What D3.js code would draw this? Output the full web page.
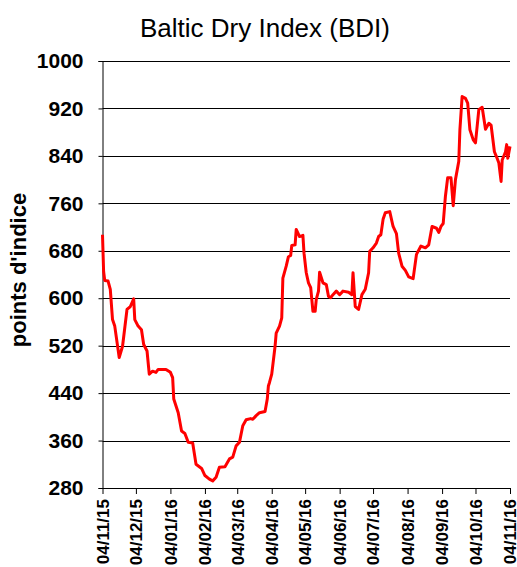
<!DOCTYPE html>
<html>
<head>
<meta charset="utf-8">
<script src="https://cdn.jsdelivr.net/npm/d3@7"></script>
<style>
  html, body { margin: 0; padding: 0; background: #fff; }
  svg { display: block; font-family: Arial, "Liberation Sans", sans-serif; }
</style>
</head>
<body>
<svg id="chart" width="517" height="567"></svg>
<script>
// ---- Data ----
const title = "Baltic Dry Index (BDI)";
const yTitle = "points d'indice";
const dates = [
  "2015-11-04","2015-11-05","2015-11-06","2015-11-09","2015-11-11","2015-11-13","2015-11-15","2015-11-19",
  "2015-11-22","2015-11-26","2015-11-29","2015-12-02","2015-12-03","2015-12-06","2015-12-09","2015-12-11",
  "2015-12-14","2015-12-16","2015-12-19","2015-12-22","2015-12-24","2015-12-31","2016-01-04","2016-01-06",
  "2016-01-07","2016-01-11","2016-01-14","2016-01-17","2016-01-20","2016-01-24","2016-01-27","2016-02-01",
  "2016-02-04","2016-02-08","2016-02-11","2016-02-14","2016-02-17","2016-02-22","2016-02-26","2016-02-29",
  "2016-03-03","2016-03-06","2016-03-09","2016-03-12","2016-03-16","2016-03-18","2016-03-21","2016-03-24",
  "2016-03-29","2016-03-31","2016-04-01","2016-04-02","2016-04-04","2016-04-07","2016-04-08","2016-04-11",
  "2016-04-13","2016-04-14","2016-04-17","2016-04-19","2016-04-21","2016-04-22","2016-04-25","2016-04-26",
  "2016-04-29","2016-05-02","2016-05-03","2016-05-05","2016-05-07","2016-05-09","2016-05-11","2016-05-13",
  "2016-05-14","2016-05-16","2016-05-17","2016-05-20","2016-05-23","2016-05-25","2016-05-27","2016-05-29",
  "2016-06-01","2016-06-04","2016-06-07","2016-06-12","2016-06-15","2016-06-16","2016-06-18","2016-06-21",
  "2016-06-24","2016-06-27","2016-06-30","2016-07-01","2016-07-04","2016-07-07","2016-07-09","2016-07-11",
  "2016-07-13","2016-07-15","2016-07-19","2016-07-22","2016-07-25","2016-07-27","2016-07-30","2016-08-02",
  "2016-08-05","2016-08-09","2016-08-12","2016-08-16","2016-08-20","2016-08-23","2016-08-26","2016-08-30",
  "2016-09-01","2016-09-03","2016-09-05","2016-09-07","2016-09-09","2016-09-12","2016-09-14","2016-09-16",
  "2016-09-19","2016-09-20","2016-09-22","2016-09-25","2016-09-27","2016-09-29","2016-10-02","2016-10-04",
  "2016-10-07","2016-10-10","2016-10-13","2016-10-16","2016-10-18","2016-10-21","2016-10-23","2016-10-25",
  "2016-10-27","2016-10-28","2016-10-31","2016-11-01","2016-11-02","2016-11-04"
];
const bdi = [
  707,645,630,629,615,564,553,500,
  519,581,586,599,564,553,547,522,
  511,472,477,475,480,480,475,466,
  430,407,376,372,357,356,320,313,
  301,295,292,298,315,316,329,332,
  351,357,385,395,397,396,402,407,
  409,430,452,458,472,519,541,553,
  567,634,654,670,672,689,690,716,
  704,706,676,643,626,618,578,578,
  598,612,644,626,623,603,601,606,
  612,606,612,610,606,643,586,581,
  606,615,643,679,685,693,704,707,
  733,744,746,721,709,676,654,647,
  636,633,674,688,685,690,721,718,
  711,721,726,772,803,803,756,800,
  831,884,940,937,929,884,867,862,
  918,922,885,895,892,847,838,828,
  797,833,847,859,836,856
];
const xTickDates = [
  "2015-11-04","2015-12-04","2016-01-04","2016-02-04","2016-03-04","2016-04-04","2016-05-04",
  "2016-06-04","2016-07-04","2016-08-04","2016-09-04","2016-10-04","2016-11-04"
];
const yTicks = [280, 360, 440, 520, 600, 680, 760, 840, 920, 1000];

// ---- Layout ----
const parse = d3.timeParse("%Y-%m-%d");
const fmt = d3.timeFormat("%d/%m/%y");
const mLeft = 102.5, mRight = 510, mTop = 61, mBottom = 488;
const svg = d3.select("#chart");

const x = d3.scaleTime()
  .domain([parse("2015-11-04"), parse("2016-11-04")])
  .range([mLeft, mRight]);
const y = d3.scaleLinear().domain([280, 1000]).range([mBottom, mTop]);

const data = dates.map((d, i) => ({ date: parse(d), value: bdi[i] }));

// Title
svg.append("text")
  .attr("x", 265).attr("y", 37)
  .attr("text-anchor", "middle")
  .style("font-size", "26px")
  .text(title);

// Gridlines
svg.append("g")
  .selectAll("line")
  .data(yTicks)
  .join("line")
  .attr("x1", mLeft).attr("x2", mRight)
  .attr("y1", d => Math.round(y(d)) + 0.5).attr("y2", d => Math.round(y(d)) + 0.5)
  .attr("stroke", "#000").attr("stroke-width", 1);

// Y axis
const yAxis = svg.append("g")
  .attr("transform", `translate(${mLeft},0)`)
  .call(d3.axisLeft(y).tickValues(yTicks).tickSize(4).tickPadding(15).tickFormat(d3.format("d")));
yAxis.select(".domain").attr("stroke", "#000");
yAxis.selectAll(".tick text")
  .style("font-size", "21px").style("font-weight", "bold")
  .attr("fill", "#000");

// X axis
const xAxis = svg.append("g")
  .attr("transform", `translate(0,${mBottom})`)
  .call(d3.axisBottom(x).tickValues(xTickDates.map(parse)).tickSize(6).tickFormat(fmt));
xAxis.select(".domain").remove();
xAxis.selectAll(".tick text")
  .style("font-size", "17px").style("font-weight", "bold")
  .attr("fill", "#000")
  .attr("text-anchor", "end")
  .attr("transform", "rotate(-90)")
  .attr("x", -11).attr("y", 0).attr("dy", "0.34em");

// Y title
svg.append("text")
  .attr("transform", "translate(26,270) rotate(-90)")
  .attr("text-anchor", "middle")
  .style("font-size", "22px").style("font-weight", "bold")
  .text(yTitle);

// Line
svg.append("path")
  .datum(data)
  .attr("fill", "none")
  .attr("stroke", "#ff0000")
  .attr("stroke-width", 3)
  .attr("stroke-linejoin", "round")
  .attr("d", d3.line().x(d => x(d.date)).y(d => y(d.value)));
</script>
</body>
</html>
